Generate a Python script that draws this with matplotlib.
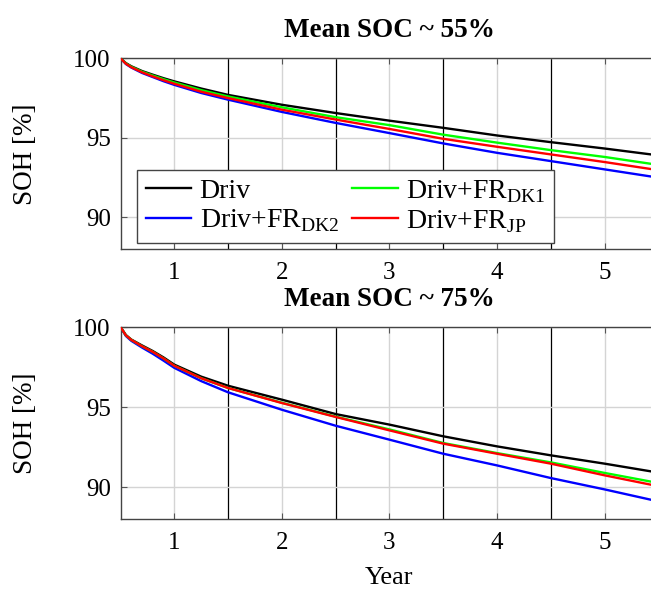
import matplotlib
matplotlib.use('Agg')
import matplotlib.pyplot as plt

plt.rcParams['font.family'] = ['Liberation Serif', 'DejaVu Serif']
plt.rcParams['mathtext.fontset'] = 'custom'
plt.rcParams['mathtext.rm'] = 'Liberation Serif'
plt.rcParams['font.size'] = 18

years = [0.5, 0.55, 0.6, 0.7, 0.8, 0.9, 1.0, 1.25, 1.5, 2.0, 2.5, 3.0, 3.5, 4.0, 4.5, 5.0, 5.5]

# Mean SOC ~ 55%
soc55_driv = [100.0, 99.7, 99.5, 99.2, 98.97, 98.75, 98.55, 98.1, 97.7, 97.08, 96.56, 96.08, 95.63, 95.15, 94.73, 94.33, 93.9]
soc55_dk1 = [100.0, 99.68, 99.47, 99.16, 98.92, 98.69, 98.48, 98.0, 97.6, 96.92, 96.3, 95.8, 95.2, 94.7, 94.23, 93.8, 93.3]
soc55_dk2 = [100.0, 99.64, 99.42, 99.08, 98.82, 98.56, 98.33, 97.82, 97.4, 96.63, 95.94, 95.3, 94.65, 94.06, 93.54, 93.02, 92.5]
soc55_jp = [100.0, 99.66, 99.44, 99.12, 98.86, 98.62, 98.4, 97.9, 97.5, 96.77, 96.15, 95.56, 94.94, 94.44, 93.96, 93.48, 92.97]

# Mean SOC ~ 75%
soc75_driv = [100.0, 99.5, 99.22, 98.85, 98.5, 98.1, 97.65, 96.9, 96.33, 95.46, 94.56, 93.9, 93.17, 92.54, 91.98, 91.46, 90.9]
soc75_dk1 = [100.0, 99.48, 99.2, 98.8, 98.45, 98.04, 97.58, 96.8, 96.19, 95.27, 94.4, 93.6, 92.75, 92.12, 91.54, 90.88, 90.25]
soc75_dk2 = [100.0, 99.44, 99.14, 98.72, 98.33, 97.9, 97.45, 96.62, 95.92, 94.83, 93.83, 92.96, 92.08, 91.35, 90.56, 89.85, 89.1]
soc75_jp = [100.0, 99.48, 99.2, 98.8, 98.45, 98.04, 97.58, 96.8, 96.19, 95.25, 94.38, 93.54, 92.71, 92.08, 91.46, 90.73, 90.05]

titles = ['Mean SOC ~ 55%', 'Mean SOC ~ 75%']
labels = ['Driv', r'Driv+FR$_{\mathrm{DK2}}$', r'Driv+FR$_{\mathrm{DK1}}$', r'Driv+FR$_{\mathrm{JP}}$']
colors = ['black', 'blue', '#00ff00', 'red']
x_ticks = [1, 2, 3, 4, 5]
y_ticks = [90, 95, 100]
half_years = [1.5, 2.5, 3.5, 4.5]

panels = [
    [soc55_driv, soc55_dk2, soc55_dk1, soc55_jp],
    [soc75_driv, soc75_dk2, soc75_dk1, soc75_jp],
]

fig = plt.figure(figsize=(6.51, 5.9), dpi=100)
ax_top = fig.add_axes([0.1851, 0.5775, 0.8264, 0.3237])
ax_bot = fig.add_axes([0.1851, 0.1203, 0.8264, 0.3254])

for ax, series, title in zip([ax_top, ax_bot], panels, titles):
    ax.set_xlim(0.5, 5.5)
    ax.set_ylim(88, 100)
    ax.set_xticks(x_ticks)
    ax.set_yticks(y_ticks)
    ax.grid(True, color='#d4d4d4', linewidth=1.0)
    for hx in half_years:
        ax.axvline(hx, color='black', linewidth=0.9, zorder=1.5)
    for vals, c, lab in zip(series, colors, labels):
        ax.plot(years, vals, color=c, linewidth=1.7, label=lab, zorder=3)
    ax.tick_params(direction='in', length=4, color='#555555', top=True, right=True, width=0.8)
    ax.tick_params(axis='x', pad=9)
    ax.tick_params(axis='y', pad=7)
    for sp in ax.spines.values():
        sp.set_color('#444444')
        sp.set_linewidth(1.0)
    ax.text(0.5, 1.143, title, transform=ax.transAxes, ha='center', va='center',
            fontweight='bold', fontsize=19.5)

ax_top.legend(loc='lower left', bbox_to_anchor=(0.031, 0.031), borderaxespad=0,
              ncol=2, fancybox=False, framealpha=1, edgecolor='#444444',
              handlelength=1.65, handletextpad=0.3, columnspacing=0.45,
              labelspacing=0.12, borderpad=0.3, fontsize=20)

fig.text(25 / 651, 1 - 154 / 590, 'SOH [%]', rotation=90, ha='center', va='center', fontsize=19.5)
fig.text(25 / 651, 1 - 423 / 590, 'SOH [%]', rotation=90, ha='center', va='center', fontsize=19.5)
fig.text(389 / 651, 1 - 578 / 590, 'Year', ha='center', va='center', fontsize=19)

fig.savefig('out.png', dpi=100)
